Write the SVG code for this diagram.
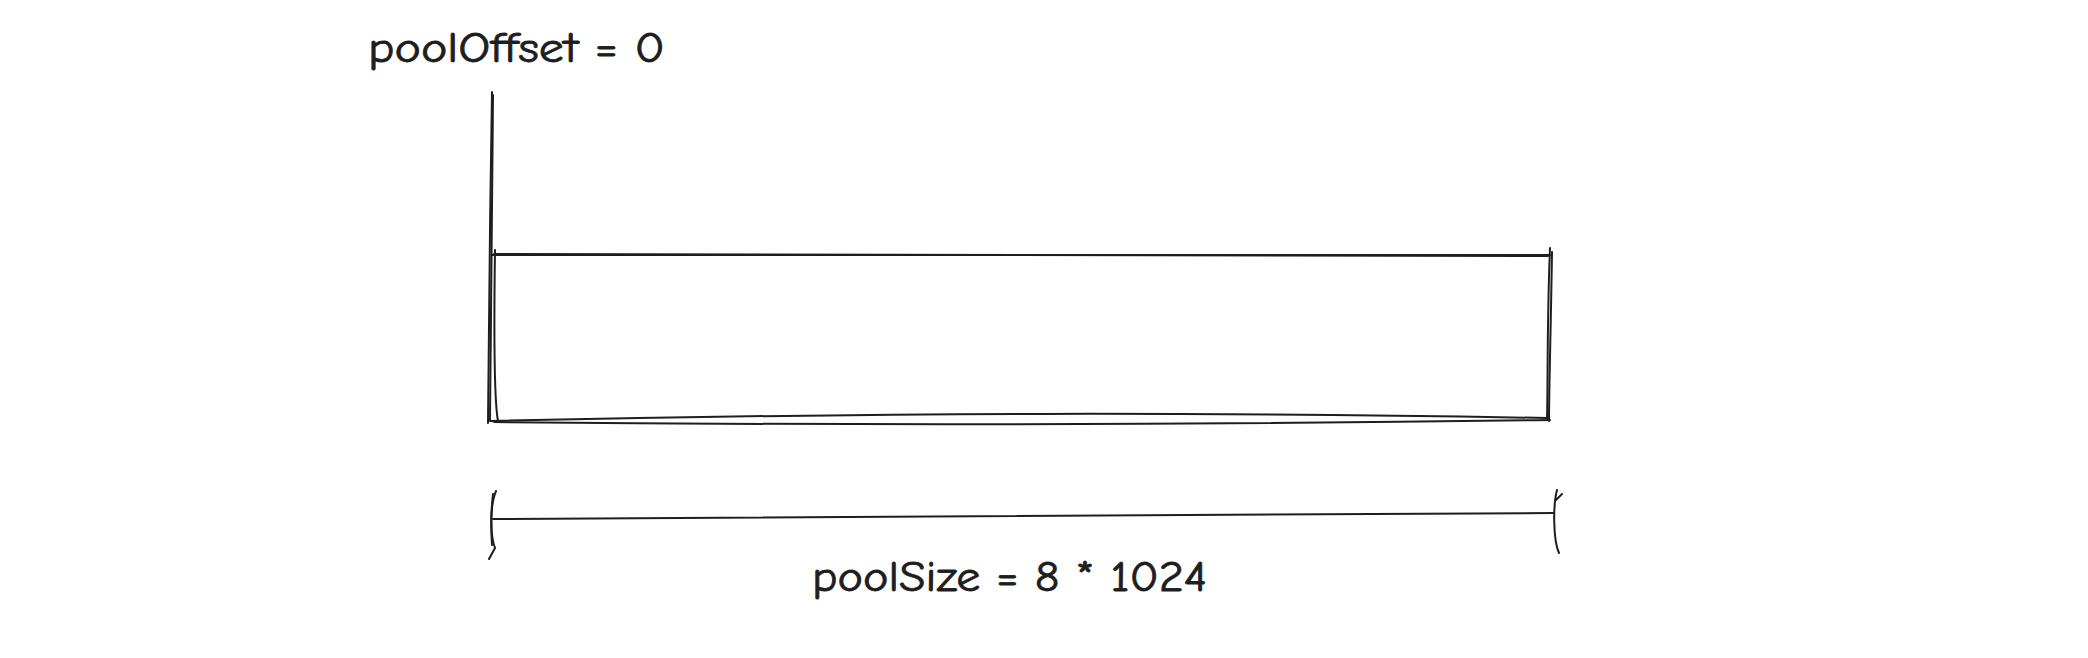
<svg xmlns="http://www.w3.org/2000/svg" width="2088" height="658" viewBox="0 0 2088 658">
<style>
.s{fill:none;stroke:#1e1e1e;stroke-width:2;stroke-linecap:round}
.t{font-family:"Comic Neue","Liberation Sans",sans-serif;font-size:42px;fill:#1e1e1e;stroke:#1e1e1e;stroke-width:0.8}
</style>
<rect width="2088" height="658" fill="#ffffff"/>
<g id="label-offset">
<text class="t" x="368" y="62" textLength="297" lengthAdjust="spacingAndGlyphs">poolOffset = 0</text>
</g>
<g id="offset-marker">
<path class="s" d="M492 92 C490 200 489 330 488 423"/>
<path class="s" d="M493 95 C492 210 491 330 490 420"/>
</g>
<g id="pool">
<path class="s" d="M492 255 L1550 255"/>
<path class="s" d="M494 254 L1548 256"/>
<path class="s" d="M1550 248 C1547 320 1548 380 1547 419"/>
<path class="s" d="M1552 252 C1551 320 1549 390 1549 421"/>
<path class="s" d="M490 421 C900 412 1200 412 1548 418"/>
<path class="s" d="M494 422 C900 426 1200 425 1550 420"/>
<path class="s" d="M495 250 C494 320 494 400 498 421"/>
</g>
<g id="connectors">
<path class="s" d="M493 519 L1553 513"/>
<path class="s" d="M496 491 C490 505 490 535 495 548 M495 548 L489 559"/>
<path class="s" d="M493 494 C491 510 491 530 492 545"/>
<path class="s" d="M1557 490 C1553 505 1553 540 1559 553 M1556 500 L1562 494"/>
</g>
<g id="label-size">
<text class="t" x="812" y="591" textLength="395" lengthAdjust="spacingAndGlyphs">poolSize = 8 * 1024</text>
</g>
</svg>
